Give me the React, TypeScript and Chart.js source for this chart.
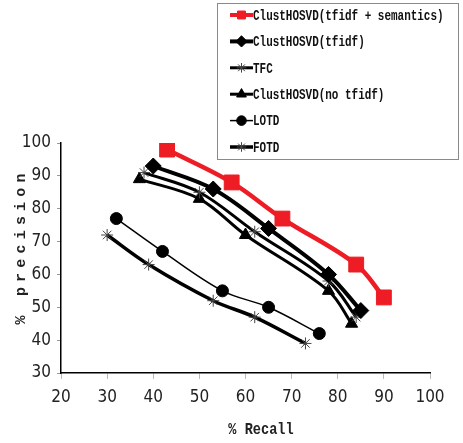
import React, { useEffect, useRef } from "react";
import { Chart, registerables } from "chart.js";
import { drawPoint } from "chart.js/helpers";

Chart.register(...registerables);

const seriesNames = [
  "ClustHOSVD(tfidf + semantics)",
  "ClustHOSVD(tfidf)",
  "TFC",
  "ClustHOSVD(no tfidf)",
  "LOTD",
  "FOTD",
];

const semRecall = [43, 57, 68, 84, 90];
const semPrecision = [98, 88, 77, 63, 53];

const tfidfRecall = [40, 53, 65, 78, 85];
const tfidfPrecision = [93, 86, 74, 60, 49];

const tfcRecall = [38, 50, 62, 78, 84];
const tfcPrecision = [91, 85, 73, 58, 47];

const noTfidfRecall = [37, 50, 60, 78, 83];
const noTfidfPrecision = [89, 83, 72, 55, 45];

const lotdRecall = [32, 42, 55, 65, 76];
const lotdPrecision = [77, 67, 55, 50, 42];

const fotdRecall = [30, 39, 53, 62, 73];
const fotdPrecision = [72, 63, 52, 47, 39];

const xTicks = [20, 30, 40, 50, 60, 70, 80, 90, 100];
const yTicks = [30, 40, 50, 60, 70, 80, 90, 100];

const toPts = (xs: number[], ys: number[]) => xs.map((x, i) => ({ x, y: ys[i] }));

const MONO = "'Liberation Mono', 'DejaVu Sans Mono', monospace";
const NARROW = "'Liberation Sans Narrow', 'DejaVu Sans Condensed', sans-serif";

const overlayPlugin = {
  id: "overlay",
  afterDraw(chart: any) {
    const ctx = chart.ctx as CanvasRenderingContext2D;
    // legend box
    ctx.save();
    ctx.strokeStyle = "#8a8a8a";
    ctx.lineWidth = 1;
    ctx.fillStyle = "#ffffff";
    ctx.fillRect(217.5, 3.5, 241, 156);
    ctx.strokeRect(217.5, 3.5, 241, 156);
    chart.data.datasets.forEach((ds: any, i: number) => {
      const y = 15 + i * 26.4;
      ctx.save();
      ctx.strokeStyle = ds.borderColor;
      ctx.lineWidth = Math.min(ds.borderWidth, 4);
      ctx.beginPath();
      ctx.moveTo(230, y);
      ctx.lineTo(253, y);
      ctx.stroke();
      ctx.fillStyle = ds.pointBackgroundColor;
      ctx.strokeStyle = ds.pointBorderColor;
      ctx.lineWidth = ds.pointBorderWidth;
      drawPoint(ctx, { pointStyle: ds.pointStyle, rotation: 0, borderWidth: ds.pointBorderWidth, radius: Math.min(ds.pointRadius, 7) * 0.8 } as any, 241.5, y);
      ctx.restore();
      ctx.save();
      ctx.translate(253, y);
      ctx.scale(0.73, 1);
      ctx.font = `bold 15px ${MONO}`;
      ctx.fillStyle = "#111";
      ctx.textBaseline = "middle";
      ctx.textAlign = "left";
      ctx.fillText(ds.label, 0, 1);
      ctx.restore();
    });
    ctx.restore();

    // x title
    ctx.save();
    ctx.translate(261, 430);
    ctx.scale(0.8, 1);
    ctx.font = `bold 17px ${MONO}`;
    ctx.fillStyle = "#222";
    ctx.textAlign = "center";
    ctx.textBaseline = "middle";
    ctx.fillText("% Recall", 0, 0);
    ctx.restore();

    // y title
    ctx.save();
    ctx.translate(21, 249);
    ctx.rotate(-Math.PI / 2);
    ctx.font = `bold 15px ${MONO}`;
    (ctx as any).letterSpacing = "5.2px";
    ctx.fillStyle = "#222";
    ctx.textAlign = "left";
    ctx.textBaseline = "middle";
    const t = "% precision";
    const w = ctx.measureText(t).width - 5.2;
    ctx.fillText(t, -w / 2, 0);
    ctx.restore();
  },
};

export default function App() {
  const ref = useRef<HTMLCanvasElement | null>(null);
  useEffect(() => {
    document.body.style.margin = "0";
    if (!ref.current) return;
    const mk = (
      label: string,
      xs: number[],
      ys: number[],
      color: string,
      width: number,
      style: string,
      radius: number,
      pbg: string,
      pborder: string,
      pbw: number
    ) => ({
      label,
      data: toPts(xs, ys),
      borderColor: color,
      backgroundColor: color,
      borderWidth: width,
      pointStyle: style,
      pointRadius: radius,
      pointBackgroundColor: pbg,
      pointBorderColor: pborder,
      pointBorderWidth: pbw,
      tension: 0.35,
      fill: false,
    });
    const datasets = [
      mk(seriesNames[0], semRecall, semPrecision, "#ee1c24", 4.5, "rect", 10.5, "#ee1c24", "#ee1c24", 1),
      mk(seriesNames[1], tfidfRecall, tfidfPrecision, "#000", 4, "rectRot", 8, "#000", "#000", 1),
      mk(seriesNames[2], tfcRecall, tfcPrecision, "#000", 3, "star", 6, "#444", "#444", 1),
      mk(seriesNames[3], noTfidfRecall, noTfidfPrecision, "#000", 3, "triangle", 7, "#000", "#000", 1),
      mk(seriesNames[4], lotdRecall, lotdPrecision, "#000", 1.5, "circle", 6, "#000", "#000", 1),
      mk(seriesNames[5], fotdRecall, fotdPrecision, "#000", 3.5, "star", 6, "#444", "#444", 1),
    ];
    datasets.forEach((d: any, i: number) => (d.order = i));

    const chart = new Chart(ref.current, {
      type: "line",
      data: { datasets: datasets as any },
      options: {
        animation: false,
        responsive: false,
        devicePixelRatio: 1,
        layout: { padding: { top: 143, right: 33, left: 0, bottom: 0 } },
        plugins: { legend: { display: false }, tooltip: { enabled: false }, title: { display: false } },
        scales: {
          x: {
            type: "linear",
            min: 20,
            max: 100,
            afterFit: (s: any) => {
              s.height = 70;
            },
            afterBuildTicks: (s: any) => {
              s.ticks = xTicks.map((v) => ({ value: v }));
            },
            ticks: {
              color: "#222",
              font: { family: NARROW, size: 17 },
              padding: 8,
            },
            grid: { drawOnChartArea: false, drawTicks: true, tickLength: 6, color: "#bbbbbb", tickColor: "#bbbbbb" },
            border: { display: true, color: "#000", width: 1.5 },
            title: { display: false },
          },
          y: {
            type: "linear",
            min: 30,
            max: 100,
            afterFit: (s: any) => {
              s.width = 61;
            },
            afterBuildTicks: (s: any) => {
              s.ticks = yTicks.map((v) => ({ value: v }));
            },
            ticks: {
              color: "#222",
              font: { family: NARROW, size: 17 },
              padding: 6,
            },
            grid: { drawOnChartArea: false, drawTicks: true, tickLength: 4, color: "#999", tickColor: "#999" },
            border: { display: true, color: "#000", width: 1.5 },
            title: { display: false },
          },
        },
      },
      plugins: [overlayPlugin],
    });
    return () => chart.destroy();
  }, []);
  return (
    <div style={{ width: 463, height: 443 }}>
      <canvas ref={ref} width={463} height={443} style={{ display: "block", width: 463, height: 443 }} />
    </div>
  );
}
